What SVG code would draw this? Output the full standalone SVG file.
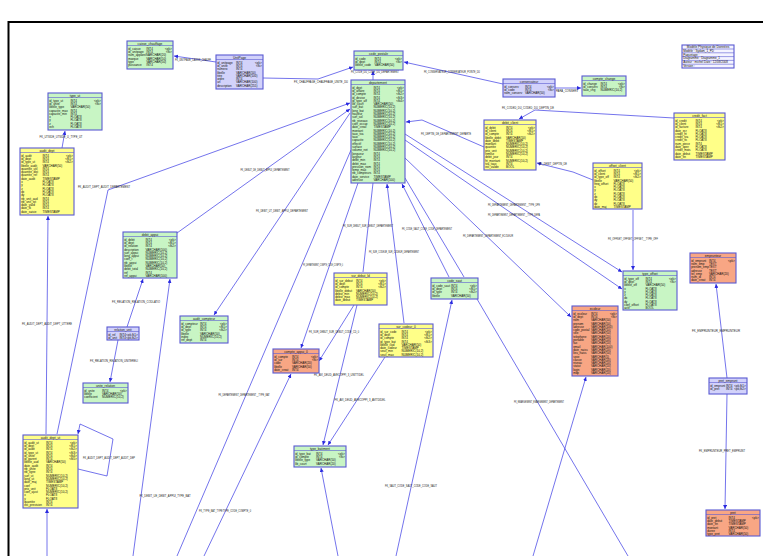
<svg xmlns="http://www.w3.org/2000/svg" width="763" height="556" viewBox="0 0 763 556">
<defs>
<style>
.g{fill:#c8f5c4}.y{fill:#ffff88}.s{fill:#f8a684}.l{fill:#d2d2fa}
.tb rect{stroke:#5a5ad2;stroke-width:1.1}
.sep{stroke:#5a5ad2;stroke-width:0.6}
.t{font-family:"Liberation Sans",Arial,sans-serif;font-size:3px;fill:#111}
.tt{font-family:"Liberation Sans",Arial,sans-serif;font-size:3.2px;fill:#111;text-anchor:middle}
.k{text-anchor:end}
.c path,.c polyline,.c line{stroke:#4646e6;stroke-width:0.75;fill:none}
.a{marker-end:url(#ar)}
.lb{font-family:"Liberation Sans",Arial,sans-serif;font-size:3px;fill:#222;text-anchor:middle}
</style>
<marker id="ar" viewBox="0 0 6 6" refX="6" refY="3" markerWidth="4" markerHeight="4" orient="auto" markerUnits="userSpaceOnUse"><path d="M0,0 L6,3 L0,6 z" fill="#2a2ae0"/></marker>
</defs>
<rect width="763" height="556" fill="#fff"/>
<path d="M8.5,556 V22 H763" stroke="#000" stroke-width="2" fill="none"/>

<g id="connectors" class="c">
<line class="a" x1="216" y1="62" x2="174" y2="56"/>
<polyline class="a" points="263,78 318,79 353,67"/>
<line class="a" x1="373" y1="80" x2="373" y2="71"/>
<line class="a" x1="503" y1="84" x2="404" y2="62"/>
<line class="a" x1="555" y1="88" x2="581" y2="88"/>
<polyline class="a" points="674,118 535,110 519,119"/>
<polyline class="a" points="484,147 422,120 406,122"/>
<polyline class="a" points="593,180 573,172 537,163"/>
<line class="a" x1="633" y1="210" x2="633" y2="270"/>
<line class="a" x1="405" y1="134" x2="622" y2="272"/>
<line class="a" x1="405" y1="140" x2="622" y2="289"/>
<line class="a" x1="405" y1="158" x2="571" y2="317"/>
<line class="a" x1="449" y1="277" x2="402" y2="184"/>
<line x1="464" y1="277" x2="405" y2="178"/>
<line class="a" x1="404" y1="323" x2="387" y2="184"/>
<line x1="363" y1="272" x2="373" y2="183"/>
<line class="a" x1="358" y1="183" x2="301" y2="348"/>
<line class="a" x1="350" y1="113" x2="214" y2="315"/>
<polyline class="a" points="57,434 108,190 350,103"/>
<line class="a" x1="177" y1="233" x2="350" y2="109"/>
<line x1="351" y1="150" x2="177" y2="556"/>
<line class="a" x1="133" y1="556" x2="170" y2="279"/>
<line class="a" x1="127" y1="327" x2="143" y2="279"/>
<line class="a" x1="118" y1="340" x2="110" y2="382"/>
<line class="a" x1="46" y1="434" x2="48" y2="216"/>
<line class="a" x1="62" y1="148" x2="65" y2="131"/>
<line class="a" x1="47" y1="556" x2="47" y2="509"/>
<polyline class="a" points="78,469 107,476 113,439 80,424 78,434"/>
<line class="a" x1="204" y1="556" x2="291" y2="374"/>
<line class="a" x1="354" y1="305" x2="319" y2="361"/>
<line class="a" x1="357" y1="305" x2="323" y2="445"/>
<line class="a" x1="385" y1="357" x2="328" y2="445"/>
<line class="a" x1="338" y1="556" x2="321" y2="468"/>
<line class="a" x1="396" y1="556" x2="452" y2="300"/>
<line x1="477" y1="299" x2="628" y2="556"/>
<line class="a" x1="533" y1="556" x2="586" y2="377"/>
<line class="a" x1="727" y1="378" x2="716" y2="284"/>
<line class="a" x1="727" y1="394" x2="725" y2="509"/>
</g>

<g id="labels">
<text class="lb" x="193" y="61" textLength="36" lengthAdjust="spacingAndGlyphs">FK_UNITPAGE_CAISSE_CHAUFF</text>
<text class="lb" x="321" y="83" textLength="54" lengthAdjust="spacingAndGlyphs">FK_CHAUFFAGE_CHAUFFAGE_UNITE_DU</text>
<text class="lb" x="375" y="73" textLength="48" lengthAdjust="spacingAndGlyphs">FK_CODE_DU_CODE_DU_DEPARTEMENT</text>
<text class="lb" x="452" y="73" textLength="56" lengthAdjust="spacingAndGlyphs">FK_CONSERVATEUR_CONSERVATEUR_POINTE_DU</text>
<text class="lb" x="567" y="92" textLength="22" lengthAdjust="spacingAndGlyphs">PARA_CONSERV</text>
<text class="lb" x="528" y="109" textLength="52" lengthAdjust="spacingAndGlyphs">FK_CODED_DU_CODED_DU_DEPTIN_DE</text>
<text class="lb" x="446" y="135" textLength="50" lengthAdjust="spacingAndGlyphs">FK_DEPTIN_DE_DEPARTEMENT_DEPARTE</text>
<text class="lb" x="553" y="165" textLength="28" lengthAdjust="spacingAndGlyphs">FK_DEBIT_DEPTIN_DE</text>
<text class="lb" x="633" y="240" textLength="50" lengthAdjust="spacingAndGlyphs">FK_OFFSET_OFFSET_OFFSET__TYPE_OFF</text>
<text class="lb" x="514" y="206" textLength="52" lengthAdjust="spacingAndGlyphs">FK_DEPARTEMENT_DEPARTEMENT__TYPE_DPE</text>
<text class="lb" x="514" y="216" textLength="52" lengthAdjust="spacingAndGlyphs">FK_DEPARTEMENT_DEPARTEMENT__TYPE_DEPA</text>
<text class="lb" x="488" y="237" textLength="50" lengthAdjust="spacingAndGlyphs">FK_DEPARTEMENT_DEPARTEMENT_ECOLEUR</text>
<text class="lb" x="427" y="230" textLength="50" lengthAdjust="spacingAndGlyphs">FK_CODE_SAUT_CODE_CODE_DEPARTEMENT</text>
<text class="lb" x="394" y="253" textLength="50" lengthAdjust="spacingAndGlyphs">FK_SUR_CODEUR_SUR_CODEUR_DEPARTEMENT</text>
<text class="lb" x="368" y="227" textLength="50" lengthAdjust="spacingAndGlyphs">FK_SUR_DEBUT_SUR_DEBUT_DEPARTEMENT</text>
<text class="lb" x="323" y="266" textLength="40" lengthAdjust="spacingAndGlyphs">FK_DEPARTEMENT_COMPTE_CODE_COMPTE_0</text>
<text class="lb" x="282" y="212" textLength="52" lengthAdjust="spacingAndGlyphs">FK_DEBIT_UT_DEBIT_APPUI_DEPARTEMENT</text>
<text class="lb" x="265" y="171" textLength="49" lengthAdjust="spacingAndGlyphs">FK_DEBUT_DE_DEBUT_APPUI_DEPARTEMENT</text>
<text class="lb" x="104" y="188" textLength="52" lengthAdjust="spacingAndGlyphs">FK_AUDIT_DEPT_AUDIT_DEPARTEMENT</text>
<text class="lb" x="61" y="138" textLength="43" lengthAdjust="spacingAndGlyphs">FK_UTSIDE_UTSIDE_U_TYPE_UT</text>
<text class="lb" x="47" y="325" textLength="50" lengthAdjust="spacingAndGlyphs">FK_AUDIT_DEPT_AUDIT_DEPT_UTTERE</text>
<text class="lb" x="136" y="303" textLength="48" lengthAdjust="spacingAndGlyphs">FK_RELATION_RELATION_CODLATIO</text>
<text class="lb" x="114" y="362" textLength="48" lengthAdjust="spacingAndGlyphs">FK_RELATION_RELATION_UNITERELI</text>
<text class="lb" x="109" y="459" textLength="52" lengthAdjust="spacingAndGlyphs">FK_AUDIT_DEPT_AUDIT_DEPT_AUDIT_DEP</text>
<text class="lb" x="165" y="497" textLength="51" lengthAdjust="spacingAndGlyphs">FK_DEBIT_UE_DEBIT_APPUI_TYPE_BAT</text>
<text class="lb" x="244" y="396" textLength="51" lengthAdjust="spacingAndGlyphs">FK_DEPARTEMENT_DEPARTEMENT__TYPE_BAT</text>
<text class="lb" x="225" y="512" textLength="52" lengthAdjust="spacingAndGlyphs">FK_TYPE_BAT_TYPETYPE_CODE_COMPTE_0</text>
<text class="lb" x="360" y="401" textLength="51" lengthAdjust="spacingAndGlyphs">FK_AVI_DEUD_AVECOPPI_3_AVITDIDEL</text>
<text class="lb" x="339" y="376" textLength="50" lengthAdjust="spacingAndGlyphs">FK_AVI_DEUD_AVECOPPI_3_UNITTIDEL</text>
<text class="lb" x="334" y="333" textLength="50" lengthAdjust="spacingAndGlyphs">FK_SUR_DEBUT_SUR_DEBUT_CODE_CD_0</text>
<text class="lb" x="411" y="487" textLength="52" lengthAdjust="spacingAndGlyphs">FK_SAUT_CODE_SAUT_CODE_CODE_SAUT</text>
<text class="lb" x="539" y="403" textLength="50" lengthAdjust="spacingAndGlyphs">FK_EMARGEMENT_EMARGEMENT_DEPARTEMENT</text>
<text class="lb" x="716" y="332" textLength="48" lengthAdjust="spacingAndGlyphs">FK_EMPRUNTEUR_EMPRUNTEUR</text>
<text class="lb" x="722" y="452" textLength="46" lengthAdjust="spacingAndGlyphs">FK_EMPRUNTEUR_PRET_EMPRUNT</text>
</g>

<g id="t-caisse" class="tb">
<rect class="g" x="127" y="41" width="46" height="28"/><line class="sep" x1="127" y1="45.5" x2="173" y2="45.5"/>
<text class="tt" x="150" y="44.7">caisse_chauffage</text>
<text class="t" y="49.6"><tspan x="128.2">id_caisse</tspan><tspan x="128.2" dy="3.3">id_unitpage</tspan><tspan x="128.2" dy="3.3">num_appareil</tspan><tspan x="128.2" dy="3.3">marque</tspan><tspan x="128.2" dy="3.3">type</tspan><tspan x="128.2" dy="3.3">puissance</tspan></text>
<text class="t" y="49.6"><tspan x="146.3">INT4</tspan><tspan x="146.3" dy="3.3">INT4</tspan><tspan x="146.3" dy="3.3">VARCHAR(20)</tspan><tspan x="146.3" dy="3.3">VARCHAR(50)</tspan><tspan x="146.3" dy="3.3">VARCHAR(50)</tspan><tspan x="146.3" dy="3.3">INT4</tspan></text>
<text class="t k" y="49.6"><tspan x="171.8">&lt;pk&gt;</tspan><tspan x="171.8" dy="3.3">&lt;fk&gt;</tspan></text>
</g>

<g id="t-unitpage" class="tb">
<rect class="l" x="216" y="55" width="47" height="34"/><line class="sep" x1="216" y1="59.5" x2="263" y2="59.5"/>
<text class="tt" x="239.5" y="58.7">UnitPage</text>
<text class="t" y="63.6"><tspan x="217.2">id_unitpage</tspan><tspan x="217.2" dy="3.3">id_unite</tspan><tspan x="217.2" dy="3.3">numero</tspan><tspan x="217.2" dy="3.3">libelle</tspan><tspan x="217.2" dy="3.3">titre</tspan><tspan x="217.2" dy="3.3">ordre</tspan><tspan x="217.2" dy="3.3">url</tspan><tspan x="217.2" dy="3.3">description</tspan></text>
<text class="t" y="63.6"><tspan x="236">INT4</tspan><tspan x="236" dy="3.3">INT4</tspan><tspan x="236" dy="3.3">INT4</tspan><tspan x="236" dy="3.3">VARCHAR(50)</tspan><tspan x="236" dy="3.3">VARCHAR(100)</tspan><tspan x="236" dy="3.3">INT4</tspan><tspan x="236" dy="3.3">VARCHAR(100)</tspan><tspan x="236" dy="3.3">VARCHAR(255)</tspan></text>
<text class="t k" y="63.6"><tspan x="261.8">&lt;pk&gt;</tspan><tspan x="261.8" dy="3.3">&lt;fk&gt;</tspan></text>
</g>

<g id="t-code" class="tb">
<rect class="g" x="354" y="51" width="49" height="19"/><line class="sep" x1="354" y1="55.5" x2="403" y2="55.5"/>
<text class="tt" x="378.5" y="54.7">code_postale</text>
<text class="t" y="59.6"><tspan x="355.2">id_code</tspan><tspan x="355.2" dy="3.3">id_dept</tspan><tspan x="355.2" dy="3.3">libelle_code</tspan></text>
<text class="t" y="59.6"><tspan x="374.5">INT4</tspan><tspan x="374.5" dy="3.3">INT4</tspan><tspan x="374.5" dy="3.3">VARCHAR(50)</tspan></text>
<text class="t k" y="59.6"><tspan x="401.8">&lt;pk&gt;</tspan><tspan x="401.8" dy="3.3">&lt;fk&gt;</tspan></text>
</g>

<g id="t-departement" class="tb">
<rect class="g" x="351" y="80" width="54" height="103"/><line class="sep" x1="351" y1="84.5" x2="405" y2="84.5"/>
<text class="tt" x="378" y="83.7">departement</text>
<text class="t" y="88.6"><tspan x="352.2">id_dept</tspan><tspan x="352.2" dy="3.3">id_affaire</tspan><tspan x="352.2" dy="3.3">id_compte</tspan><tspan x="352.2" dy="3.3">id_devise</tspan><tspan x="352.2" dy="3.3">id_type_aff</tspan><tspan x="352.2" dy="3.3">lib_court</tspan><tspan x="352.2" dy="3.3">surf_bat</tspan><tspan x="352.2" dy="3.3">long_bat</tspan><tspan x="352.2" dy="3.3">hauteur</tspan><tspan x="352.2" dy="3.3">surf_sol</tspan><tspan x="352.2" dy="3.3">nb_niveaux</tspan><tspan x="352.2" dy="3.3">coef_occup</tspan><tspan x="352.2" dy="3.3">date_creat</tspan><tspan x="352.2" dy="3.3">montant</tspan><tspan x="352.2" dy="3.3">taux_tva</tspan><tspan x="352.2" dy="3.3">taux</tspan><tspan x="352.2" dy="3.3">capacite</tspan><tspan x="352.2" dy="3.3">effectif</tspan><tspan x="352.2" dy="3.3">surface</tspan><tspan x="352.2" dy="3.3">volume_net</tspan><tspan x="352.2" dy="3.3">longueur</tspan><tspan x="352.2" dy="3.3">largeur</tspan><tspan x="352.2" dy="3.3">debit_min</tspan><tspan x="352.2" dy="3.3">debit_max</tspan><tspan x="352.2" dy="3.3">pression_nom</tspan><tspan x="352.2" dy="3.3">temp_max</tspan><tspan x="352.2" dy="3.3">nb_compteurs</tspan><tspan x="352.2" dy="3.3">date_service</tspan><tspan x="352.2" dy="3.3">adresse</tspan></text>
<text class="t" y="88.6"><tspan x="373.5">INT4</tspan><tspan x="373.5" dy="3.3">INT4</tspan><tspan x="373.5" dy="3.3">INT4</tspan><tspan x="373.5" dy="3.3">INT4</tspan><tspan x="373.5" dy="3.3">INT4</tspan><tspan x="373.5" dy="3.3">VARCHAR(50)</tspan><tspan x="373.5" dy="3.3">NUMERIC(10,2)</tspan><tspan x="373.5" dy="3.3">NUMERIC(10,2)</tspan><tspan x="373.5" dy="3.3">NUMERIC(10,2)</tspan><tspan x="373.5" dy="3.3">NUMERIC(10,2)</tspan><tspan x="373.5" dy="3.3">NUMERIC(10,2)</tspan><tspan x="373.5" dy="3.3">NUMERIC(10,2)</tspan><tspan x="373.5" dy="3.3">TIMESTAMP</tspan><tspan x="373.5" dy="3.3">NUMERIC(10,2)</tspan><tspan x="373.5" dy="3.3">NUMERIC(10,2)</tspan><tspan x="373.5" dy="3.3">NUMERIC(10,2)</tspan><tspan x="373.5" dy="3.3">NUMERIC(10,2)</tspan><tspan x="373.5" dy="3.3">NUMERIC(10,2)</tspan><tspan x="373.5" dy="3.3">NUMERIC(10,2)</tspan><tspan x="373.5" dy="3.3">NUMERIC(10,2)</tspan><tspan x="373.5" dy="3.3">INT4</tspan><tspan x="373.5" dy="3.3">INT4</tspan><tspan x="373.5" dy="3.3">INT4</tspan><tspan x="373.5" dy="3.3">INT4</tspan><tspan x="373.5" dy="3.3">INT4</tspan><tspan x="373.5" dy="3.3">INT4</tspan><tspan x="373.5" dy="3.3">INT4</tspan><tspan x="373.5" dy="3.3">TIMESTAMP</tspan><tspan x="373.5" dy="3.3">VARCHAR(100)</tspan></text>
<text class="t k" y="88.6"><tspan x="403.8">&lt;pk&gt;</tspan><tspan x="403.8" dy="3.3">&lt;fk1&gt;</tspan><tspan x="403.8" dy="3.3">&lt;fk2&gt;</tspan><tspan x="403.8" dy="3.3">&lt;fk3&gt;</tspan><tspan x="403.8" dy="3.3">&lt;fk4&gt;</tspan></text>
</g>

<g id="t-conservateur" class="tb">
<rect class="l" x="503" y="79" width="52" height="18"/><line class="sep" x1="503" y1="83.5" x2="555" y2="83.5"/>
<text class="tt" x="529" y="82.7">conservateur</text>
<text class="t" y="87.6"><tspan x="504.2">id_conserv</tspan><tspan x="504.2" dy="3.3">id_code</tspan><tspan x="504.2" dy="3.3">nom_conserv</tspan></text>
<text class="t" y="87.6"><tspan x="525">INT4</tspan><tspan x="525" dy="3.3">INT4</tspan><tspan x="525" dy="3.3">VARCHAR(50)</tspan></text>
<text class="t k" y="87.6"><tspan x="553.8">&lt;pk&gt;</tspan><tspan x="553.8" dy="3.3">&lt;fk&gt;</tspan></text>
</g>

<g id="t-change" class="tb">
<rect class="g" x="582" y="76" width="44" height="20"/><line class="sep" x1="582" y1="80.5" x2="626" y2="80.5"/>
<text class="tt" x="604" y="79.7">compte_change</text>
<text class="t" y="84.6"><tspan x="583.2">id_change</tspan><tspan x="583.2" dy="3.3">id_conserv</tspan><tspan x="583.2" dy="3.3">taux_chg</tspan></text>
<text class="t" y="84.6"><tspan x="600.5">INT4</tspan><tspan x="600.5" dy="3.3">INT4</tspan><tspan x="600.5" dy="3.3">NUMERIC(10,2)</tspan></text>
<text class="t k" y="84.6"><tspan x="624.8">&lt;pk&gt;</tspan><tspan x="624.8" dy="3.3">&lt;fk&gt;</tspan></text>
</g>

<g id="legend" class="tb">
<rect fill="#f4f4ff" x="682" y="45" width="52" height="23"/>
<line class="sep" x1="682" y1="49" x2="734" y2="49"/><line class="sep" x1="682" y1="52.8" x2="734" y2="52.8"/><line class="sep" x1="682" y1="56.6" x2="734" y2="56.6"/><line class="sep" x1="682" y1="60.4" x2="734" y2="60.4"/><line class="sep" x1="682" y1="64.2" x2="734" y2="64.2"/>
<text class="tt" x="708" y="48">Modèle Physique de Données</text>
<text class="t" y="51.8"><tspan x="683.2">Modèle : Sydam_1_PD</tspan><tspan x="683.2" dy="3.8">Paquetage :</tspan><tspan x="683.2" dy="3.8">Diagramme : Diagramme_1</tspan><tspan x="683.2" dy="3.8">Auteur : michel   Date : 12/08/2008</tspan><tspan x="683.2" dy="3.8">Version :</tspan></text>
</g>

<g id="t-debit-client" class="tb">
<rect class="y" x="484" y="120" width="52" height="50"/><line class="sep" x1="484" y1="124.5" x2="536" y2="124.5"/>
<text class="tt" x="510" y="123.7">debit_client</text>
<text class="t" y="128.6"><tspan x="485.2">id_debit</tspan><tspan x="485.2" dy="3.3">id_client</tspan><tspan x="485.2" dy="3.3">id_compte</tspan><tspan x="485.2" dy="3.3">libelle_debit</tspan><tspan x="485.2" dy="3.3">date_debit</tspan><tspan x="485.2" dy="3.3">montant</tspan><tspan x="485.2" dy="3.3">quantite</tspan><tspan x="485.2" dy="3.3">prix_unit</tspan><tspan x="485.2" dy="3.3">remise</tspan><tspan x="485.2" dy="3.3">debit_jour</tspan><tspan x="485.2" dy="3.3">ht_montant</tspan><tspan x="485.2" dy="3.3">tva_taux</tspan><tspan x="485.2" dy="3.3">est_valide</tspan></text>
<text class="t" y="128.6"><tspan x="506">INT4</tspan><tspan x="506" dy="3.3">INT4</tspan><tspan x="506" dy="3.3">INT4</tspan><tspan x="506" dy="3.3">VARCHAR(50)</tspan><tspan x="506" dy="3.3">TIMESTAMP</tspan><tspan x="506" dy="3.3">NUMERIC(10,2)</tspan><tspan x="506" dy="3.3">NUMERIC(10,2)</tspan><tspan x="506" dy="3.3">NUMERIC(10,2)</tspan><tspan x="506" dy="3.3">NUMERIC(10,2)</tspan><tspan x="506" dy="3.3">INT4</tspan><tspan x="506" dy="3.3">NUMERIC(10,2)</tspan><tspan x="506" dy="3.3">INT4</tspan><tspan x="506" dy="3.3">BOOL</tspan></text>
<text class="t k" y="128.6"><tspan x="534.8">&lt;pk&gt;</tspan><tspan x="534.8" dy="3.3">&lt;fk1&gt;</tspan><tspan x="534.8" dy="3.3">&lt;fk2&gt;</tspan></text>
</g>

<g id="t-credit" class="tb">
<rect class="y" x="674" y="113" width="51" height="47"/><line class="sep" x1="674" y1="117.5" x2="725" y2="117.5"/>
<text class="tt" x="699.5" y="116.7">credit_fact</text>
<text class="t" y="121.6"><tspan x="675.2">id_credit</tspan><tspan x="675.2" dy="3.3">id_client</tspan><tspan x="675.2" dy="3.3">id_facture</tspan><tspan x="675.2" dy="3.3">date_ecr</tspan><tspan x="675.2" dy="3.3">credit_ht</tspan><tspan x="675.2" dy="3.3">credit_tva</tspan><tspan x="675.2" dy="3.3">credit_ttc</tspan><tspan x="675.2" dy="3.3">num_piece</tspan><tspan x="675.2" dy="3.3">date_oper</tspan><tspan x="675.2" dy="3.3">credit_mois</tspan><tspan x="675.2" dy="3.3">date_debut</tspan><tspan x="675.2" dy="3.3">date_fin</tspan></text>
<text class="t" y="121.6"><tspan x="695.5">INT4</tspan><tspan x="695.5" dy="3.3">INT4</tspan><tspan x="695.5" dy="3.3">INT4</tspan><tspan x="695.5" dy="3.3">FLOAT8</tspan><tspan x="695.5" dy="3.3">FLOAT8</tspan><tspan x="695.5" dy="3.3">FLOAT8</tspan><tspan x="695.5" dy="3.3">FLOAT8</tspan><tspan x="695.5" dy="3.3">INT4</tspan><tspan x="695.5" dy="3.3">FLOAT8</tspan><tspan x="695.5" dy="3.3">FLOAT8</tspan><tspan x="695.5" dy="3.3">TIMESTAMP</tspan><tspan x="695.5" dy="3.3">TIMESTAMP</tspan></text>
<text class="t k" y="121.6"><tspan x="723.8">&lt;pk&gt;</tspan><tspan x="723.8" dy="3.3">&lt;fk1&gt;</tspan><tspan x="723.8" dy="3.3">&lt;fk2&gt;</tspan></text>
</g>

<g id="t-offset-client" class="tb">
<rect class="y" x="593" y="163" width="49" height="46"/><line class="sep" x1="593" y1="167.5" x2="642" y2="167.5"/>
<text class="tt" x="617.5" y="166.7">offset_client</text>
<text class="t" y="171.6"><tspan x="594.2">id_offset</tspan><tspan x="594.2" dy="3.3">id_client</tspan><tspan x="594.2" dy="3.3">id_type_off</tspan><tspan x="594.2" dy="3.3">libelle</tspan><tspan x="594.2" dy="3.3">freq_offset</tspan><tspan x="594.2" dy="3.3">x</tspan><tspan x="594.2" dy="3.3">y</tspan><tspan x="594.2" dy="3.3">z</tspan><tspan x="594.2" dy="3.3">dx</tspan><tspan x="594.2" dy="3.3">dy</tspan><tspan x="594.2" dy="3.3">dz</tspan><tspan x="594.2" dy="3.3">date_maj</tspan></text>
<text class="t" y="171.6"><tspan x="613.5">INT4</tspan><tspan x="613.5" dy="3.3">INT4</tspan><tspan x="613.5" dy="3.3">INT4</tspan><tspan x="613.5" dy="3.3">VARCHAR(50)</tspan><tspan x="613.5" dy="3.3">FLOAT8</tspan><tspan x="613.5" dy="3.3">FLOAT8</tspan><tspan x="613.5" dy="3.3">FLOAT8</tspan><tspan x="613.5" dy="3.3">FLOAT8</tspan><tspan x="613.5" dy="3.3">FLOAT8</tspan><tspan x="613.5" dy="3.3">FLOAT8</tspan><tspan x="613.5" dy="3.3">FLOAT8</tspan><tspan x="613.5" dy="3.3">TIMESTAMP</tspan></text>
<text class="t k" y="171.6"><tspan x="640.8">&lt;pk&gt;</tspan><tspan x="640.8" dy="3.3">&lt;fk1&gt;</tspan><tspan x="640.8" dy="3.3">&lt;fk2&gt;</tspan></text>
</g>

<g id="t-type-ut" class="tb">
<rect class="g" x="48" y="93" width="54" height="37"/><line class="sep" x1="48" y1="97.5" x2="102" y2="97.5"/>
<text class="tt" x="75" y="96.7">type_ut</text>
<text class="t" y="101.6"><tspan x="49.2">id_type_ut</tspan><tspan x="49.2" dy="3.3">id_unite</tspan><tspan x="49.2" dy="3.3">libelle_type</tspan><tspan x="49.2" dy="3.3">capacite_max</tspan><tspan x="49.2" dy="3.3">capacite_min</tspan><tspan x="49.2" dy="3.3">x</tspan><tspan x="49.2" dy="3.3">y</tspan><tspan x="49.2" dy="3.3">z</tspan><tspan x="49.2" dy="3.3">ech</tspan></text>
<text class="t" y="101.6"><tspan x="70.5">INT4</tspan><tspan x="70.5" dy="3.3">INT4</tspan><tspan x="70.5" dy="3.3">VARCHAR(50)</tspan><tspan x="70.5" dy="3.3">INT4</tspan><tspan x="70.5" dy="3.3">INT4</tspan><tspan x="70.5" dy="3.3">FLOAT8</tspan><tspan x="70.5" dy="3.3">FLOAT8</tspan><tspan x="70.5" dy="3.3">FLOAT8</tspan><tspan x="70.5" dy="3.3">FLOAT8</tspan></text>
<text class="t k" y="101.6"><tspan x="100.8">&lt;pk&gt;</tspan><tspan x="100.8" dy="3.3">&lt;fk&gt;</tspan></text>
</g>

<g id="t-audit-dept" class="tb">
<rect class="y" x="20" y="148" width="54" height="67"/><line class="sep" x1="20" y1="152.5" x2="74" y2="152.5"/>
<text class="tt" x="47" y="151.7">audit_dept</text>
<text class="t" y="156.6"><tspan x="21.2">id_audit</tspan><tspan x="21.2" dy="3.3">id_dept</tspan><tspan x="21.2" dy="3.3">id_type_ut</tspan><tspan x="21.2" dy="3.3">libelle_audit</tspan><tspan x="21.2" dy="3.3">quantite_util</tspan><tspan x="21.2" dy="3.3">quantite_dist</tspan><tspan x="21.2" dy="3.3">quantite_ref</tspan><tspan x="21.2" dy="3.3">date_audit</tspan><tspan x="21.2" dy="3.3">x</tspan><tspan x="21.2" dy="3.3">y</tspan><tspan x="21.2" dy="3.3">z</tspan><tspan x="21.2" dy="3.3">dx</tspan><tspan x="21.2" dy="3.3">dy</tspan><tspan x="21.2" dy="3.3">nb_unit_aud</tspan><tspan x="21.2" dy="3.3">nb_unit_tot</tspan><tspan x="21.2" dy="3.3">date_valid</tspan><tspan x="21.2" dy="3.3">date_fk</tspan><tspan x="21.2" dy="3.3">date_saisie</tspan></text>
<text class="t" y="156.6"><tspan x="42.5">INT4</tspan><tspan x="42.5" dy="3.3">INT4</tspan><tspan x="42.5" dy="3.3">INT4</tspan><tspan x="42.5" dy="3.3">VARCHAR(50)</tspan><tspan x="42.5" dy="3.3">INT4</tspan><tspan x="42.5" dy="3.3">INT4</tspan><tspan x="42.5" dy="3.3">INT4</tspan><tspan x="42.5" dy="3.3">TIMESTAMP</tspan><tspan x="42.5" dy="3.3">FLOAT8</tspan><tspan x="42.5" dy="3.3">FLOAT8</tspan><tspan x="42.5" dy="3.3">FLOAT8</tspan><tspan x="42.5" dy="3.3">FLOAT8</tspan><tspan x="42.5" dy="3.3">FLOAT8</tspan><tspan x="42.5" dy="3.3">INT4</tspan><tspan x="42.5" dy="3.3">INT4</tspan><tspan x="42.5" dy="3.3">INT4</tspan><tspan x="42.5" dy="3.3">INT4</tspan><tspan x="42.5" dy="3.3">TIMESTAMP</tspan></text>
<text class="t k" y="156.6"><tspan x="72.8">&lt;pk&gt;</tspan><tspan x="72.8" dy="3.3">&lt;fk1&gt;</tspan><tspan x="72.8" dy="3.3">&lt;fk2&gt;</tspan></text>
</g>

<g id="t-debit-appui" class="tb">
<rect class="g" x="123" y="232" width="54" height="46"/><line class="sep" x1="123" y1="236.5" x2="177" y2="236.5"/>
<text class="tt" x="150" y="235.7">debit_appui</text>
<text class="t" y="240.6"><tspan x="124.2">id_debit</tspan><tspan x="124.2" dy="3.3">id_dept</tspan><tspan x="124.2" dy="3.3">id_relation</tspan><tspan x="124.2" dy="3.3">description</tspan><tspan x="124.2" dy="3.3">surf_appui</tspan><tspan x="124.2" dy="3.3">long_appui</tspan><tspan x="124.2" dy="3.3">coef_t</tspan><tspan x="124.2" dy="3.3">nb_appui</tspan><tspan x="124.2" dy="3.3">libelle</tspan><tspan x="124.2" dy="3.3">debit_total</tspan><tspan x="124.2" dy="3.3">ref</tspan><tspan x="124.2" dy="3.3">ref_appui</tspan></text>
<text class="t" y="240.6"><tspan x="145.5">INT4</tspan><tspan x="145.5" dy="3.3">INT4</tspan><tspan x="145.5" dy="3.3">INT4</tspan><tspan x="145.5" dy="3.3">VARCHAR(100)</tspan><tspan x="145.5" dy="3.3">NUMERIC(10,2)</tspan><tspan x="145.5" dy="3.3">NUMERIC(10,2)</tspan><tspan x="145.5" dy="3.3">NUMERIC(10,2)</tspan><tspan x="145.5" dy="3.3">NUMERIC(10,2)</tspan><tspan x="145.5" dy="3.3">VARCHAR(50)</tspan><tspan x="145.5" dy="3.3">NUMERIC(10,2)</tspan><tspan x="145.5" dy="3.3">INT4</tspan><tspan x="145.5" dy="3.3">VARCHAR(100)</tspan></text>
<text class="t k" y="240.6"><tspan x="175.8">&lt;pk&gt;</tspan><tspan x="175.8" dy="3.3">&lt;fk1&gt;</tspan><tspan x="175.8" dy="3.3">&lt;fk2&gt;</tspan></text>
</g>

<g id="t-relation-unit" class="tb">
<rect class="l" x="107" y="327" width="32" height="13"/><line class="sep" x1="107" y1="331.5" x2="139" y2="331.5"/>
<text class="tt" x="123" y="330.7">relation_unit</text>
<text class="t" y="335.6"><tspan x="108.2">id_rel</tspan><tspan x="108.2" dy="3.3">id_unit</tspan></text>
<text class="t" y="335.6"><tspan x="119.5">INT4</tspan><tspan x="119.5" dy="3.3">INT4</tspan></text>
<text class="t k" y="335.6"><tspan x="137.8">&lt;pk,fk1&gt;</tspan><tspan x="137.8" dy="3.3">&lt;pk,fk2&gt;</tspan></text>
</g>

<g id="t-audit-compteur" class="tb">
<rect class="g" x="180" y="316" width="48" height="27"/><line class="sep" x1="180" y1="320.5" x2="228" y2="320.5"/>
<text class="tt" x="204" y="319.7">audit_compteur</text>
<text class="t" y="324.6"><tspan x="181.2">id_compteur</tspan><tspan x="181.2" dy="3.3">id_dept</tspan><tspan x="181.2" dy="3.3">id_type</tspan><tspan x="181.2" dy="3.3">libelle</tspan><tspan x="181.2" dy="3.3">index</tspan><tspan x="181.2" dy="3.3">ref_dept</tspan></text>
<text class="t" y="324.6"><tspan x="200">INT4</tspan><tspan x="200" dy="3.3">INT4</tspan><tspan x="200" dy="3.3">INT4</tspan><tspan x="200" dy="3.3">VARCHAR(50)</tspan><tspan x="200" dy="3.3">NUMERIC(10,2)</tspan><tspan x="200" dy="3.3">INT4</tspan></text>
<text class="t k" y="324.6"><tspan x="226.8">&lt;pk&gt;</tspan><tspan x="226.8" dy="3.3">&lt;fk1&gt;</tspan><tspan x="226.8" dy="3.3">&lt;fk2&gt;</tspan></text>
</g>

<g id="t-sur-debut" class="tb">
<rect class="y" x="334" y="273" width="53" height="32"/><line class="sep" x1="334" y1="277.5" x2="387" y2="277.5"/>
<text class="tt" x="360.5" y="276.7">sur_debut_ld</text>
<text class="t" y="281.6"><tspan x="335.2">id_sur_debut</tspan><tspan x="335.2" dy="3.3">id_dept</tspan><tspan x="335.2" dy="3.3">id_compte</tspan><tspan x="335.2" dy="3.3">libelle_debut</tspan><tspan x="335.2" dy="3.3">debut_min</tspan><tspan x="335.2" dy="3.3">debut_max</tspan><tspan x="335.2" dy="3.3">date_debut</tspan></text>
<text class="t" y="281.6"><tspan x="356">INT4</tspan><tspan x="356" dy="3.3">INT4</tspan><tspan x="356" dy="3.3">INT4</tspan><tspan x="356" dy="3.3">VARCHAR(50)</tspan><tspan x="356" dy="3.3">NUMERIC(10,2)</tspan><tspan x="356" dy="3.3">NUMERIC(10,2)</tspan><tspan x="356" dy="3.3">TIMESTAMP</tspan></text>
<text class="t k" y="281.6"><tspan x="385.8">&lt;pk&gt;</tspan><tspan x="385.8" dy="3.3">&lt;fk1&gt;</tspan><tspan x="385.8" dy="3.3">&lt;fk2&gt;</tspan></text>
</g>

<g id="t-compte-appui" class="tb">
<rect class="s" x="273" y="349" width="46" height="24"/><line class="sep" x1="273" y1="353.5" x2="319" y2="353.5"/>
<text class="tt" x="296" y="352.7">compte_appui_0</text>
<text class="t" y="357.6"><tspan x="274.2">id_compte</tspan><tspan x="274.2" dy="3.3">id_sur</tspan><tspan x="274.2" dy="3.3">code</tspan><tspan x="274.2" dy="3.3">libelle</tspan><tspan x="274.2" dy="3.3">date_creat</tspan></text>
<text class="t" y="357.6"><tspan x="292">INT4</tspan><tspan x="292" dy="3.3">INT4</tspan><tspan x="292" dy="3.3">VARCHAR(20)</tspan><tspan x="292" dy="3.3">VARCHAR(50)</tspan><tspan x="292" dy="3.3">INT4</tspan></text>
<text class="t k" y="357.6"><tspan x="317.8">&lt;pk&gt;</tspan><tspan x="317.8" dy="3.3">&lt;fk&gt;</tspan></text>
</g>

<g id="t-sur-codeur" class="tb">
<rect class="y" x="379" y="324" width="54" height="33"/><line class="sep" x1="379" y1="328.5" x2="433" y2="328.5"/>
<text class="tt" x="406" y="327.7">sur_codeur_0</text>
<text class="t" y="332.6"><tspan x="380.2">id_sur_code</tspan><tspan x="380.2" dy="3.3">id_dept</tspan><tspan x="380.2" dy="3.3">id_compte</tspan><tspan x="380.2" dy="3.3">id_type_bat</tspan><tspan x="380.2" dy="3.3">libelle_cod</tspan><tspan x="380.2" dy="3.3">date_codeur</tspan><tspan x="380.2" dy="3.3">seuil_min</tspan><tspan x="380.2" dy="3.3">seuil_max</tspan></text>
<text class="t" y="332.6"><tspan x="401.5">INT4</tspan><tspan x="401.5" dy="3.3">INT4</tspan><tspan x="401.5" dy="3.3">INT4</tspan><tspan x="401.5" dy="3.3">INT4</tspan><tspan x="401.5" dy="3.3">VARCHAR(50)</tspan><tspan x="401.5" dy="3.3">TIMESTAMP</tspan><tspan x="401.5" dy="3.3">NUMERIC(10,2)</tspan><tspan x="401.5" dy="3.3">NUMERIC(10,2)</tspan></text>
<text class="t k" y="332.6"><tspan x="431.8">&lt;pk&gt;</tspan><tspan x="431.8" dy="3.3">&lt;fk1&gt;</tspan><tspan x="431.8" dy="3.3">&lt;fk2&gt;</tspan><tspan x="431.8" dy="3.3">&lt;fk3&gt;</tspan></text>
</g>

<g id="t-code-saut" class="tb">
<rect class="g" x="431" y="278" width="47" height="21"/><line class="sep" x1="431" y1="282.5" x2="478" y2="282.5"/>
<text class="tt" x="454.5" y="281.7">code_saut</text>
<text class="t" y="286.6"><tspan x="432.2">id_code_saut</tspan><tspan x="432.2" dy="3.3">id_dept</tspan><tspan x="432.2" dy="3.3">id_type</tspan><tspan x="432.2" dy="3.3">libelle</tspan></text>
<text class="t" y="286.6"><tspan x="451">INT4</tspan><tspan x="451" dy="3.3">INT4</tspan><tspan x="451" dy="3.3">INT4</tspan><tspan x="451" dy="3.3">VARCHAR(50)</tspan></text>
<text class="t k" y="286.6"><tspan x="476.8">&lt;pk&gt;</tspan><tspan x="476.8" dy="3.3">&lt;fk1&gt;</tspan><tspan x="476.8" dy="3.3">&lt;fk2&gt;</tspan></text>
</g>

<g id="t-ecoleur" class="tb">
<rect class="s" x="572" y="306" width="46" height="70"/><line class="sep" x1="572" y1="310.5" x2="618" y2="310.5"/>
<text class="tt" x="595" y="309.7">ecoleur</text>
<text class="t" y="314.6"><tspan x="573.2">id_ecoleur</tspan><tspan x="573.2" dy="3.3">id_dept</tspan><tspan x="573.2" dy="3.3">nom</tspan><tspan x="573.2" dy="3.3">prenom</tspan><tspan x="573.2" dy="3.3">adresse</tspan><tspan x="573.2" dy="3.3">code_postal</tspan><tspan x="573.2" dy="3.3">ville</tspan><tspan x="573.2" dy="3.3">telephone</tspan><tspan x="573.2" dy="3.3">portable</tspan><tspan x="573.2" dy="3.3">fax</tspan><tspan x="573.2" dy="3.3">email</tspan><tspan x="573.2" dy="3.3">date_naiss</tspan><tspan x="573.2" dy="3.3">lieu_naiss</tspan><tspan x="573.2" dy="3.3">sexe</tspan><tspan x="573.2" dy="3.3">classe</tspan><tspan x="573.2" dy="3.3">niveau</tspan><tspan x="573.2" dy="3.3">statut</tspan><tspan x="573.2" dy="3.3">login</tspan><tspan x="573.2" dy="3.3">mdp</tspan></text>
<text class="t" y="314.6"><tspan x="591">INT4</tspan><tspan x="591" dy="3.3">INT4</tspan><tspan x="591" dy="3.3">VARCHAR(50)</tspan><tspan x="591" dy="3.3">VARCHAR(50)</tspan><tspan x="591" dy="3.3">VARCHAR(100)</tspan><tspan x="591" dy="3.3">VARCHAR(10)</tspan><tspan x="591" dy="3.3">VARCHAR(50)</tspan><tspan x="591" dy="3.3">VARCHAR(20)</tspan><tspan x="591" dy="3.3">VARCHAR(20)</tspan><tspan x="591" dy="3.3">VARCHAR(20)</tspan><tspan x="591" dy="3.3">VARCHAR(100)</tspan><tspan x="591" dy="3.3">VARCHAR(20)</tspan><tspan x="591" dy="3.3">VARCHAR(50)</tspan><tspan x="591" dy="3.3">VARCHAR(5)</tspan><tspan x="591" dy="3.3">VARCHAR(20)</tspan><tspan x="591" dy="3.3">VARCHAR(20)</tspan><tspan x="591" dy="3.3">VARCHAR(20)</tspan><tspan x="591" dy="3.3">VARCHAR(20)</tspan><tspan x="591" dy="3.3">VARCHAR(20)</tspan></text>
<text class="t k" y="314.6"><tspan x="616.8">&lt;pk&gt;</tspan><tspan x="616.8" dy="3.3">&lt;fk&gt;</tspan></text>
</g>

<g id="t-type-offset" class="tb">
<rect class="g" x="623" y="271" width="54" height="39"/><line class="sep" x1="623" y1="275.5" x2="677" y2="275.5"/>
<text class="tt" x="650" y="274.7">type_offset</text>
<text class="t" y="279.6"><tspan x="624.2">id_type_off</tspan><tspan x="624.2" dy="3.3">id_dept</tspan><tspan x="624.2" dy="3.3">libelle_off</tspan><tspan x="624.2" dy="3.3">x</tspan><tspan x="624.2" dy="3.3">y</tspan><tspan x="624.2" dy="3.3">z</tspan><tspan x="624.2" dy="3.3">dx</tspan><tspan x="624.2" dy="3.3">dy</tspan><tspan x="624.2" dy="3.3">coef_offset</tspan><tspan x="624.2" dy="3.3">actif</tspan></text>
<text class="t" y="279.6"><tspan x="645.5">INT4</tspan><tspan x="645.5" dy="3.3">INT4</tspan><tspan x="645.5" dy="3.3">VARCHAR(50)</tspan><tspan x="645.5" dy="3.3">FLOAT8</tspan><tspan x="645.5" dy="3.3">FLOAT8</tspan><tspan x="645.5" dy="3.3">FLOAT8</tspan><tspan x="645.5" dy="3.3">FLOAT8</tspan><tspan x="645.5" dy="3.3">FLOAT8</tspan><tspan x="645.5" dy="3.3">FLOAT8</tspan><tspan x="645.5" dy="3.3">BOOL</tspan></text>
<text class="t k" y="279.6"><tspan x="675.8">&lt;pk&gt;</tspan><tspan x="675.8" dy="3.3">&lt;fk&gt;</tspan></text>
</g>

<g id="t-emprunteur" class="tb">
<rect class="s" x="690" y="253" width="46" height="30"/><line class="sep" x1="690" y1="257.5" x2="736" y2="257.5"/>
<text class="tt" x="713" y="256.7">emprunteur</text>
<text class="t" y="261.6"><tspan x="691.2">id_emprunt</tspan><tspan x="691.2" dy="3.3">nom_emp</tspan><tspan x="691.2" dy="3.3">prenom_emp</tspan><tspan x="691.2" dy="3.3">adresse</tspan><tspan x="691.2" dy="3.3">tel_emp</tspan><tspan x="691.2" dy="3.3">num_id</tspan><tspan x="691.2" dy="3.3">date_creat</tspan></text>
<text class="t" y="261.6"><tspan x="709">INT4</tspan><tspan x="709" dy="3.3">TEXT</tspan><tspan x="709" dy="3.3">TEXT</tspan><tspan x="709" dy="3.3">TEXT</tspan><tspan x="709" dy="3.3">VARCHAR(20)</tspan><tspan x="709" dy="3.3">INT4</tspan><tspan x="709" dy="3.3">INT4</tspan></text>
<text class="t k" y="261.6"><tspan x="734.8">&lt;pk&gt;</tspan></text>
</g>

<g id="t-pret-emprunt" class="tb">
<rect class="l" x="709" y="378" width="38" height="16"/><line class="sep" x1="709" y1="382.5" x2="747" y2="382.5"/>
<text class="tt" x="728" y="381.7">pret_emprunt</text>
<text class="t" y="386.6"><tspan x="710.2">id_emprunt</tspan><tspan x="710.2" dy="3.3">id_pret</tspan></text>
<text class="t" y="386.6"><tspan x="726">INT4</tspan><tspan x="726" dy="3.3">INT4</tspan></text>
<text class="t k" y="386.6"><tspan x="745.8">&lt;pk,fk1&gt;</tspan><tspan x="745.8" dy="3.3">&lt;pk,fk2&gt;</tspan></text>
</g>

<g id="t-pret" class="tb">
<rect class="s" x="706" y="510" width="54" height="26"/><line class="sep" x1="706" y1="514.5" x2="760" y2="514.5"/>
<text class="tt" x="733" y="513.7">pret</text>
<text class="t" y="518.6"><tspan x="707.2">id_pret</tspan><tspan x="707.2" dy="3.3">date_debut</tspan><tspan x="707.2" dy="3.3">date_fin</tspan><tspan x="707.2" dy="3.3">montant</tspan><tspan x="707.2" dy="3.3">duree</tspan><tspan x="707.2" dy="3.3">type_pret</tspan></text>
<text class="t" y="518.6"><tspan x="728.5">INT4</tspan><tspan x="728.5" dy="3.3">TIMESTAMP</tspan><tspan x="728.5" dy="3.3">TIMESTAMP</tspan><tspan x="728.5" dy="3.3">VARCHAR(50)</tspan><tspan x="728.5" dy="3.3">INT4</tspan><tspan x="728.5" dy="3.3">VARCHAR(50)</tspan></text>
<text class="t k" y="518.6"><tspan x="758.8">&lt;pk&gt;</tspan></text>
</g>

<g id="t-unite-relation" class="tb">
<rect class="g" x="83" y="383" width="45" height="20"/><line class="sep" x1="83" y1="387.5" x2="128" y2="387.5"/>
<text class="tt" x="105.5" y="386.7">unite_relation</text>
<text class="t" y="391.6"><tspan x="84.2">id_unite</tspan><tspan x="84.2" dy="3.3">libelle</tspan><tspan x="84.2" dy="3.3">coefficient</tspan></text>
<text class="t" y="391.6"><tspan x="102">INT4</tspan><tspan x="102" dy="3.3">VARCHAR(50)</tspan><tspan x="102" dy="3.3">NUMERIC(10,2)</tspan></text>
<text class="t k" y="391.6"><tspan x="126.8">&lt;pk&gt;</tspan></text>
</g>

<g id="t-audit-dept-ut" class="tb">
<rect class="y" x="23" y="435" width="55" height="73"/><line class="sep" x1="23" y1="439.5" x2="78" y2="439.5"/>
<text class="tt" x="50.5" y="438.7">audit_dept_ut</text>
<text class="t" y="443.6"><tspan x="24.2">id_audit_ut</tspan><tspan x="24.2" dy="3.3">id_dept</tspan><tspan x="24.2" dy="3.3">id_audit</tspan><tspan x="24.2" dy="3.3">id_type_ut</tspan><tspan x="24.2" dy="3.3">id_unite</tspan><tspan x="24.2" dy="3.3">id_parent</tspan><tspan x="24.2" dy="3.3">libelle_aud</tspan><tspan x="24.2" dy="3.3">date_audit</tspan><tspan x="24.2" dy="3.3">nb_unite</tspan><tspan x="24.2" dy="3.3">nb_ligne</tspan><tspan x="24.2" dy="3.3">surf_ut</tspan><tspan x="24.2" dy="3.3">long_ut</tspan><tspan x="24.2" dy="3.3">date_maj</tspan><tspan x="24.2" dy="3.3">coef</tspan><tspan x="24.2" dy="3.3">prix_unit</tspan><tspan x="24.2" dy="3.3">coef_ajust</tspan><tspan x="24.2" dy="3.3">x</tspan><tspan x="24.2" dy="3.3">y</tspan><tspan x="24.2" dy="3.3">quantite</tspan><tspan x="24.2" dy="3.3">est_prevision</tspan></text>
<text class="t" y="443.6"><tspan x="46">INT4</tspan><tspan x="46" dy="3.3">INT4</tspan><tspan x="46" dy="3.3">INT4</tspan><tspan x="46" dy="3.3">INT4</tspan><tspan x="46" dy="3.3">INT4</tspan><tspan x="46" dy="3.3">INT4</tspan><tspan x="46" dy="3.3">VARCHAR(50)</tspan><tspan x="46" dy="3.3">INT4</tspan><tspan x="46" dy="3.3">INT4</tspan><tspan x="46" dy="3.3">INT4</tspan><tspan x="46" dy="3.3">NUMERIC(10,2)</tspan><tspan x="46" dy="3.3">NUMERIC(10,2)</tspan><tspan x="46" dy="3.3">TIMESTAMP</tspan><tspan x="46" dy="3.3">NUMERIC(10,2)</tspan><tspan x="46" dy="3.3">FLOAT8</tspan><tspan x="46" dy="3.3">NUMERIC(10,2)</tspan><tspan x="46" dy="3.3">FLOAT8</tspan><tspan x="46" dy="3.3">FLOAT8</tspan><tspan x="46" dy="3.3">INT4</tspan><tspan x="46" dy="3.3">INT4</tspan></text>
<text class="t k" y="443.6"><tspan x="76.8">&lt;pk&gt;</tspan><tspan x="76.8" dy="3.3">&lt;fk1&gt;</tspan><tspan x="76.8" dy="3.3">&lt;fk2&gt;</tspan><tspan x="76.8" dy="3.3">&lt;fk3&gt;</tspan><tspan x="76.8" dy="3.3">&lt;fk4&gt;</tspan><tspan x="76.8" dy="3.3">&lt;fk5&gt;</tspan></text>
</g>

<g id="t-type-batiment" class="tb">
<rect class="g" x="294" y="446" width="52" height="21"/><line class="sep" x1="294" y1="450.5" x2="346" y2="450.5"/>
<text class="tt" x="320" y="449.7">type_batiment</text>
<text class="t" y="454.6"><tspan x="295.2">id_type_bat</tspan><tspan x="295.2" dy="3.3">id_compte</tspan><tspan x="295.2" dy="3.3">libelle_type</tspan><tspan x="295.2" dy="3.3">lib_court</tspan></text>
<text class="t" y="454.6"><tspan x="316">INT4</tspan><tspan x="316" dy="3.3">INT4</tspan><tspan x="316" dy="3.3">VARCHAR(50)</tspan><tspan x="316" dy="3.3">VARCHAR(20)</tspan></text>
<text class="t k" y="454.6"><tspan x="344.8">&lt;pk&gt;</tspan><tspan x="344.8" dy="3.3">&lt;fk&gt;</tspan></text>
</g>
</svg>
